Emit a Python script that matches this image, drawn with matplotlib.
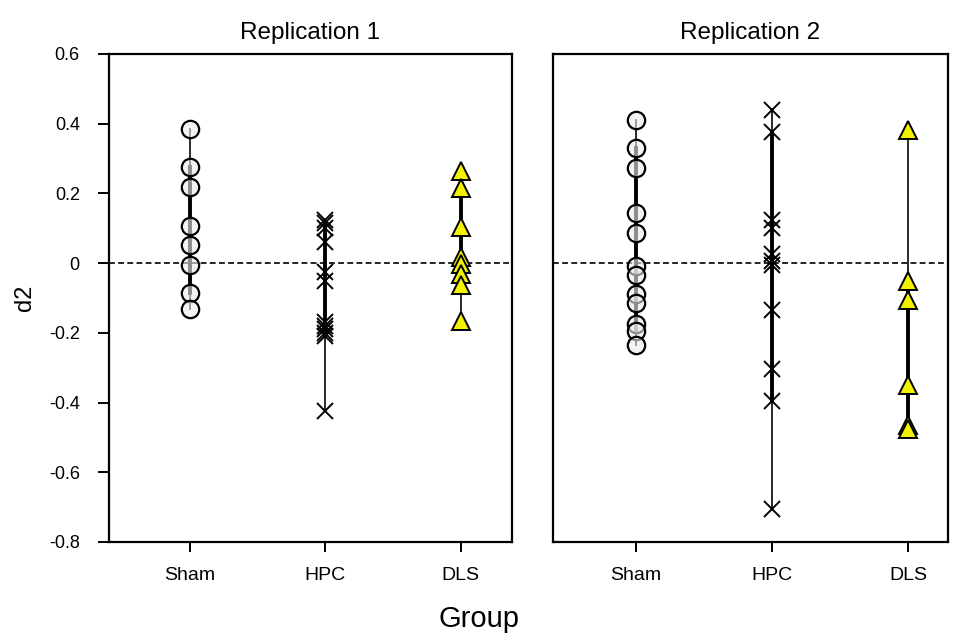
import numpy as np
import matplotlib.pyplot as plt

groups = ["Sham", "HPC", "DLS"]
titles = ["Replication 1", "Replication 2"]

# replication 1
r1_sham = [0.384, 0.275, 0.219, 0.106, 0.052, -0.005, -0.085, -0.132]
r1_hpc = [0.125, 0.115, 0.1, 0.06, -0.025, -0.05, -0.17, -0.18, -0.19, -0.2, -0.21, -0.425]
r1_dls = [0.264, 0.216, 0.104, 0.018, -0.002, -0.03, -0.063, -0.167]

# replication 2
r2_sham = [0.41, 0.331, 0.272, 0.144, 0.085, -0.008, -0.033, -0.09, -0.113, -0.175, -0.195, -0.235]
r2_hpc = [0.44, 0.375, 0.125, 0.1, 0.025, 0.005, -0.005, -0.135, -0.305, -0.395, -0.705]
r2_dls = [0.383, -0.052, -0.106, -0.35, -0.465, -0.477]

reps = [[r1_sham, r1_hpc, r1_dls], [r2_sham, r2_hpc, r2_dls]]

styles = [
    dict(marker="o", markersize=12.5, markerfacecolor=(0.92, 0.92, 0.92, 0.6),
         markeredgecolor="black", markeredgewidth=1.6),
    dict(marker="x", markersize=12, color="black", markeredgewidth=1.4),
    dict(marker="^", markersize=12.5, markerfacecolor="#f2f200",
         markeredgecolor="black", markeredgewidth=1.4),
]

fig = plt.figure(figsize=(9.57, 6.44), dpi=100)
ax1 = fig.add_axes([0.1139, 0.1584, 0.4211, 0.7578])
ax2 = fig.add_axes([0.5778, 0.1584, 0.4128, 0.7578])
axes = [ax1, ax2]
xlims = [(0.4, 3.38), (0.39, 3.29)]

tf = "Liberation Sans"
for k, ax in enumerate(axes):
    ax.axhline(0, color="black", lw=1.2, ls=(0, (3.5, 2)), zorder=1)
    for i, vals in enumerate(reps[k]):
        x = i + 1
        s = np.sort(vals)
        ax.plot([x, x], [s[0], s[-1]], color="#2a2a2a", lw=1.4, zorder=2)
        ax.plot([x, x], [s[1], s[-2]], color="black", lw=2.8, zorder=2)
        ax.plot(np.full(len(vals), x), vals, ls="none", zorder=3, **styles[i])
    ax.set_xlim(*xlims[k])
    ax.set_ylim(-0.8, 0.6)
    ax.set_xticks([1, 2, 3])
    ax.set_xticklabels(groups, fontsize=14, family=tf)
    ax.tick_params(axis="x", direction="out", length=7, width=1.4, pad=11)
    ax.set_title(titles[k], fontsize=17.5, family=tf, pad=11)
    for sp in ax.spines.values():
        sp.set_linewidth(1.6)

ax1.set_yticks(np.arange(-0.8, 0.61, 0.2))
ax1.set_yticklabels(["-0.8", "-0.6", "-0.4", "-0.2", "0", "0.2", "0.4", "0.6"],
                    fontsize=13, family=tf)
ax1.tick_params(axis="y", direction="out", length=8, width=1.4, pad=13)
ax1.set_ylabel("d2", fontsize=17, family=tf, labelpad=9)

ax2.set_yticks([])

fig.text(0.5, 0.026, "Group", ha="center", fontsize=21, family=tf)

fig.savefig("out.png", dpi=100)
